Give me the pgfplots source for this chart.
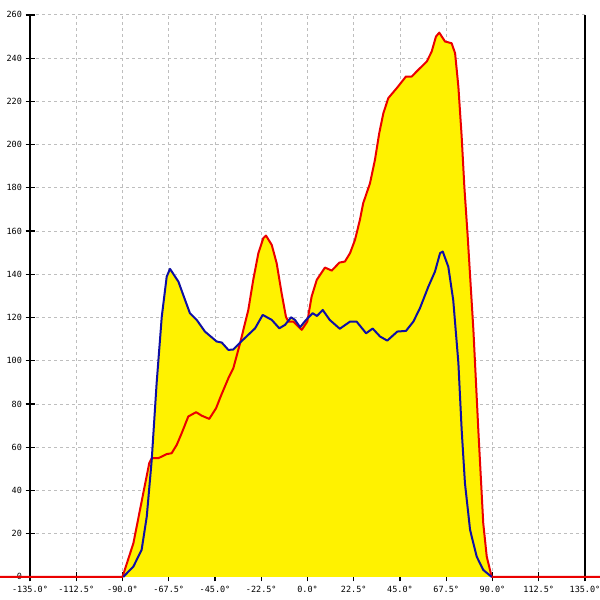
\documentclass[border=0pt]{standalone}
\usepackage{pgfplots}
\pgfplotsset{compat=1.18}
\usepackage{fontspec}
\newfontfamily\monofont{DejaVu Sans Mono}
\definecolor{cred}{RGB}{235,0,0}
\definecolor{cblue}{RGB}{15,15,165}
\definecolor{cgrid}{RGB}{190,190,190}
\pgfplotstableread{
x y
-149.6 0
-90 0
-84.7 15.6
-79.9 38.7
-77 52.6
-75.8 54.9
-72.6 54.9
-68.5 56.8
-66.1 57.2
-63.6 61.1
-61.2 66.5
-58 74.2
-54.2 76.2
-51.5 74.6
-47.8 73.1
-44.5 78
-42 84
-38.5 91.9
-36.1 96.5
-32.8 108.1
-32 111.2
-28.8 123.5
-26.4 137.4
-23.9 149.8
-21.5 156.7
-20.2 157.9
-17.4 153.6
-15 145.1
-12.6 131.3
-10.5 120.4
-9.3 118.1
-6.9 118.1
-2.8 114.3
-0.1 118.1
2 129.7
4.5 137.4
8.5 143.1
11.8 141.7
15.5 145.4
18.2 145.9
20.7 149.8
23.1 155.9
25.5 165.2
27.1 172.9
30.4 182.1
32.8 192.9
34.9 205.3
36.9 214.5
39.3 221.5
43.4 226.1
47.9 231.5
50.7 231.5
53.9 234.6
58 238.4
60.4 243
62.5 250
64.1 251.8
66.9 247.7
70.1 246.9
71.8 242.3
73.4 226.8
75 203.7
76.3 180.6
77.9 158
80.7 114.3
83.1 68
85.5 24.8
87.2 9.4
89.6 0
142.3 0
}\redtable
\pgfplotstableread{
x y
-89.6 0
-84.7 4.8
-80.7 12.5
-78.2 27.9
-75.8 54
-73.4 89.6
-70.9 120.4
-68.5 138.9
-66.9 142.5
-62.8 136.6
-59.6 128.2
-57.2 122
-53.9 118.9
-49.9 113.5
-44.2 108.9
-41.7 108.4
-38.5 105
-36.1 105.2
-32.8 108.4
-25.5 115
-21.8 121.2
-17.4 118.9
-13.7 115
-10.9 116.6
-8 120.1
-6.1 118.9
-3.6 115.5
-0.7 118.9
2.5 122
4.6 120.7
7.4 123.5
10.8 118.9
15.7 114.8
20.7 118.1
23.9 118.1
28.5 112.7
31.7 114.9
35.3 111.2
38.8 109.3
43.7 113.5
47.9 113.8
51.5 118.1
54.7 124.3
58.8 134.3
62 141.2
64.5 149.8
65.8 150.5
68.5 143.5
70.9 128
73.4 99
75 68
76.6 43.3
79.1 21.7
82.3 9.4
85.5 3.2
89.6 0
}\bluetable
\begin{document}
\begin{tikzpicture}
\begin{axis}[
  x=2.0556pt, y=2.1615pt,
  xmin=-135, xmax=135, ymin=0, ymax=260,
  axis x line*=bottom, axis y line*=left,
  axis line style={black, line width=1.2pt},
  clip=false,
  xtick={-135,-112.5,-90,-67.5,-45,-22.5,0,22.5,45,67.5,90,112.5,135},
  xticklabels={-135.0°,-112.5°,-90.0°,-67.5°,-45.0°,-22.5°,0.0°,22.5°,45.0°,67.5°,90.0°,112.5°,135.0°},
  ytick={0,20,40,60,80,100,120,140,160,180,200,220,240,260},
  yticklabels={0,20,40,60,80,100,120,140,160,180,200,220,240,260},
  tick align=center, major tick length=9pt,
  tick style={black, line width=1.2pt},
  grid=major,
  grid style={cgrid, line width=0.9pt, dash pattern=on 3pt off 3pt},
  ticklabel style={font=\monofont\fontsize{8.5}{8.5}\selectfont},
  xticklabel style={anchor=north, yshift=-1pt},
  yticklabel style={anchor=east},
]
\addplot[fill=yellow, draw=none] table {\redtable} \closedcycle;
\addplot[fill=yellow, draw=none] table {\bluetable} \closedcycle;
\draw[black, line width=1.2pt] (axis cs:135,0) -- (axis cs:135,260);
\addplot[cred, line width=2pt, line join=round] table {\redtable};
\addplot[cblue, line width=2pt, line join=round] table {\bluetable};
\coordinate (bl) at (axis cs:-149.6,-10.64);
\coordinate (tr) at (axis cs:142.3,266.9);
\end{axis}
\pgfresetboundingbox
\path[use as bounding box] (bl) rectangle (tr);
\end{tikzpicture}
\end{document}
